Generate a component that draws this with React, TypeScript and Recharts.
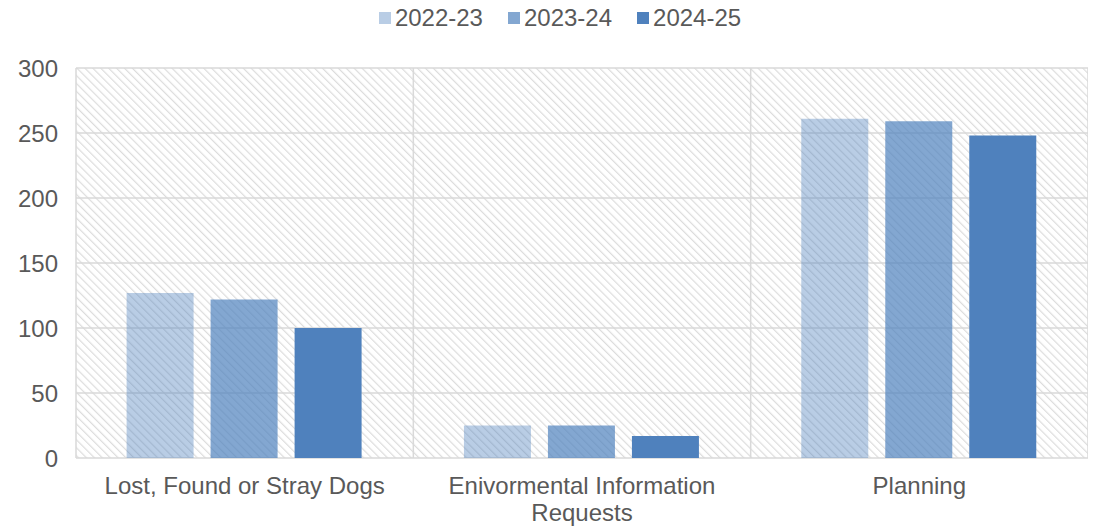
import React from "react";
import { BarChart, Bar, XAxis, YAxis, CartesianGrid, Legend } from "recharts";

const categories = ["Lost, Found or Stray Dogs", "Enivormental Information Requests", "Planning"];
const categoryLabelLines = [["Lost, Found or Stray Dogs"], ["Enivormental Information", "Requests"], ["Planning"]];
const s2022 = [127, 25, 261];
const s2023 = [122, 25, 259];
const s2024 = [100, 17, 248];
const yTicks = [0, 50, 100, 150, 200, 250, 300];
const seriesNames = ["2022-23", "2023-24", "2024-25"];
const seriesColors = ["rgba(79,129,189,0.4)", "rgba(79,129,189,0.7)", "rgb(79,129,189)"];

const data = categories.map((c, i) => ({ name: c, a: s2022[i], b: s2023[i], c: s2024[i] }));

const FONT = "'Liberation Sans', Arial, sans-serif";
const TXT = "#595959";

const XTick = (props: any) => {
  const { x, y, payload } = props;
  const idx = categories.indexOf(payload.value);
  const lines = idx >= 0 ? categoryLabelLines[idx] : [payload.value];
  return (
    <text x={x} y={y} textAnchor="middle" fontSize={24} fontFamily={FONT} fill={TXT}>
      {lines.map((l: string, i: number) => (
        <tspan key={i} x={x} dy={i === 0 ? "0.71em" : 27}>
          {l}
        </tspan>
      ))}
    </text>
  );
};

const LegendContent = () => (
  <div style={{ display: "flex", justifyContent: "center", height: 30, alignItems: "center", fontFamily: FONT, fontSize: 24, color: TXT, paddingLeft: 24 }}>
    {seriesNames.map((n, i) => (
      <div key={n} style={{ display: "flex", alignItems: "center", marginRight: i < 2 ? 25 : 0 }}>
        <span style={{ display: "inline-block", width: 12, height: 12, background: seriesColors[i], marginRight: 4 }} />
        <span>{n}</span>
      </div>
    ))}
  </div>
);

export default function App() {
  return (
    <div style={{ fontFamily: FONT }}>
      <BarChart
        width={1088}
        height={520}
        data={data}
        margin={{ top: 30, right: 8, left: 0, bottom: 40 }}
        barCategoryGap="15%"
        barGap={17}
      >
        <defs>
          <pattern id="hatch" width="5.6" height="5.6" patternUnits="userSpaceOnUse" patternTransform="rotate(-45)">
            <rect width="5.6" height="5.6" fill="#ffffff" />
            <line x1="0" y1="0" x2="0" y2="5.6" stroke="#dcdcdc" strokeWidth="2.4" />
          </pattern>
        </defs>
        <CartesianGrid
          fill="url(#hatch)"
          fillOpacity={1}
          stroke="#d9d9d9"
          strokeWidth={1.5}
          verticalCoordinatesGenerator={({ offset }: any) =>
            [0, 1, 2, 3].map((i) => offset.left + (i * offset.width) / 3)
          }
          horizontalCoordinatesGenerator={({ offset }: any) =>
            yTicks.map((t) => offset.top + offset.height - (t / 300) * offset.height)
          }
        />
        <XAxis
          dataKey="name"
          axisLine={false}
          tickLine={false}
          tickSize={0}
          tickMargin={19}
          interval={0}
          height={30}
          tick={<XTick />}
        />
        <YAxis
          width={68}
          domain={[0, 300]}
          ticks={yTicks}
          axisLine={false}
          tickLine={false}
          tickSize={0}
          tickMargin={18}
          tick={{ fontSize: 24, fill: TXT, fontFamily: FONT }}
        />
        <Legend verticalAlign="top" align="center" wrapperStyle={{ top: -5 }} content={<LegendContent />} />
        <Bar dataKey="a" name={seriesNames[0]} fill={seriesColors[0]} isAnimationActive={false} />
        <Bar dataKey="b" name={seriesNames[1]} fill={seriesColors[1]} isAnimationActive={false} />
        <Bar dataKey="c" name={seriesNames[2]} fill={seriesColors[2]} isAnimationActive={false} />
      </BarChart>
    </div>
  );
}
